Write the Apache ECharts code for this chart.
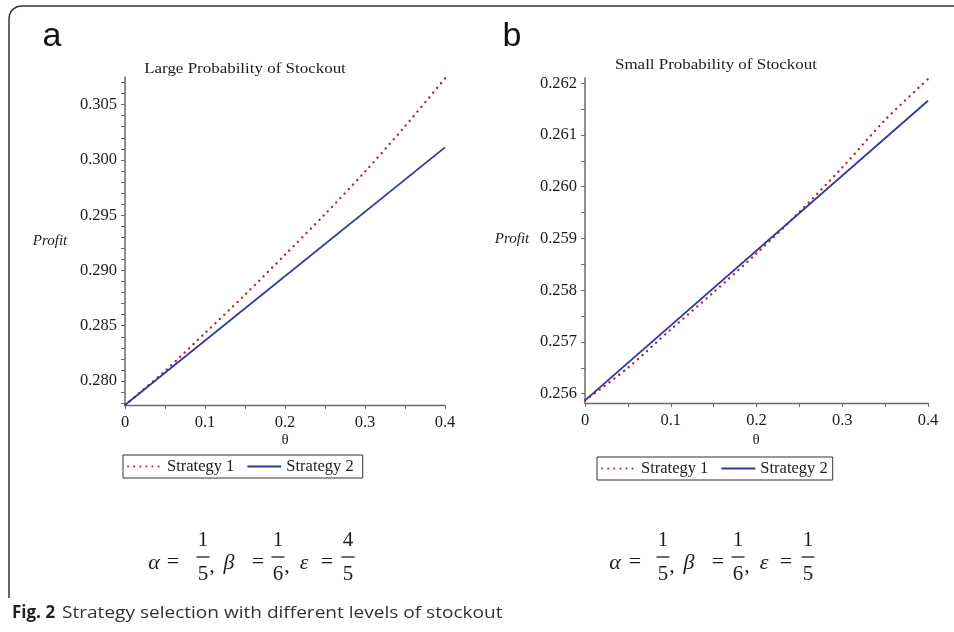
<!DOCTYPE html>
<html>
<head>
<meta charset="utf-8">
<script src="https://cdn.jsdelivr.net/npm/echarts@6/dist/echarts.min.js"></script>
<style>
html,body{margin:0;padding:0;background:#fff;}
#chart{width:954px;height:632px;}
</style>
</head>
<body>
<div id="chart"></div>
<script>
// ---- data ----
const theta = [0, 0.05, 0.1, 0.15, 0.2, 0.25, 0.3, 0.35, 0.4];
const thetaEnds = [0, 0.4];
// Panel a: Large Probability of Stockout
const largeStrategy1 = [0.27783, 0.2809, 0.28434, 0.2878, 0.29142, 0.29509, 0.29894, 0.30304, 0.30738];
const largeStrategy2 = [0.27783, 0.30113];
// Panel b: Small Probability of Stockout
const smallStrategy1 = [0.25587, 0.2565, 0.25724, 0.25796, 0.25871, 0.25951, 0.26037, 0.26129, 0.26208];
const smallStrategy2 = [0.25587, 0.26166];

const xTickValues = [0, 0.05, 0.1, 0.15, 0.2, 0.25, 0.3, 0.35, 0.4];
const xLabelValues = [0, 0.1, 0.2, 0.3, 0.4];
const largeYLabels = [0.280, 0.285, 0.290, 0.295, 0.300, 0.305];
const largeYTicks = [0.278,0.279,0.280,0.281,0.282,0.283,0.284,0.285,0.286,0.287,0.288,0.289,0.290,0.291,0.292,0.293,0.294,0.295,0.296,0.297,0.298,0.299,0.300,0.301,0.302,0.303,0.304,0.305,0.306,0.307];
const smallYLabels = [0.256, 0.257, 0.258, 0.259, 0.260, 0.261, 0.262];
const smallYTicks = [0.256,0.2565,0.257,0.2575,0.258,0.2585,0.259,0.2595,0.260,0.2605,0.261,0.2615,0.262];
const seriesNames = ['Strategy 1', 'Strategy 2'];

const panelTitles = ['Large Probability of Stockout', 'Small Probability of Stockout'];
const caption = 'Strategy selection with different levels of stockout';

// ---- styles ----
const SERIF = '"Liberation Serif", "Times New Roman", serif';
const RED = '#be2430';
const BLUE = '#2d3a9e';
const TXT = '#1c1c1c';
const AXIS = '#6a6a6a';

function pairs(xs, ys){ return xs.map((x,i)=>[x, ys[i]]); }

function xAxisFor(gridIndex){
  return {
    type:'value', gridIndex, min:0, max:0.4,
    axisLine:{show:true, lineStyle:{color:AXIS, width:1.3}},
    axisTick:{show:true, length:4, customValues:xTickValues, lineStyle:{color:AXIS}},
    axisLabel:{customValues:xLabelValues, margin:9, fontFamily:SERIF, fontSize:16.5, color:TXT,
      formatter:v=>String(+(+v).toFixed(2))},
    splitLine:{show:false}
  };
}
function yAxisFor(gridIndex, min, max, ticks, labels){
  return {
    type:'value', gridIndex, min, max,
    axisLine:{show:true, onZero:false, lineStyle:{color:AXIS, width:1.5}},
    axisTick:{show:true, length:4, customValues:ticks, lineStyle:{color:AXIS}},
    axisLabel:{customValues:labels, margin:8, fontFamily:SERIF, fontSize:16.5, color:TXT,
      formatter:v=>(+v).toFixed(3)},
    splitLine:{show:false}
  };
}

const dotted = {color:RED, width:2.4, type:[0.1,6], cap:'round'};
const solid = {color:BLUE, width:1.8};

function legendFor(left, top, padRight){
  return {
    left, top, orient:'horizontal', padding:[3,padRight,3,4], itemGap:12,
    itemWidth:34, itemHeight:14, borderColor:'#333', borderWidth:1,
    itemStyle:{color:'rgba(0,0,0,0)', borderWidth:0, opacity:0},
    data:seriesNames,
    textStyle:{fontFamily:SERIF, fontSize:16.5, color:TXT}
  };
}

function formula(items, yMid){
  const out = [];
  items.forEach(it=>{
    const [kind, x, a, b] = it;
    if(kind==='sym'){
      out.push({type:'text', x, y:yMid+2, style:{text:a, font:'italic 22px '+SERIF, fill:TXT, align:'center', verticalAlign:'middle'}});
    } else if(kind==='eq'){
      out.push({type:'text', x, y:yMid+1, style:{text:'=', font:'22px '+SERIF, fill:TXT, align:'center', verticalAlign:'middle'}});
    } else if(kind==='comma'){
      out.push({type:'text', x, y:yMid+5, style:{text:',', font:'22px '+SERIF, fill:TXT, align:'center', verticalAlign:'middle'}});
    } else if(kind==='frac'){
      out.push({type:'text', x, y:yMid-21, style:{text:a, font:'21px '+SERIF, fill:TXT, align:'center', verticalAlign:'middle'}});
      out.push({type:'line', shape:{x1:x-6.5, y1:yMid-4, x2:x+6.5, y2:yMid-4}, style:{stroke:TXT, lineWidth:1.3}});
      out.push({type:'text', x, y:yMid+13, style:{text:b, font:'21px '+SERIF, fill:TXT, align:'center', verticalAlign:'middle'}});
    }
  });
  return out;
}

const graphics = [
  {type:'polyline', shape:{points:[[9,598],[9,19],[9.5,15],[11,11.5],[13.5,8.8],[17,6.8],[22,6],[954,6]]}, style:{fill:null, stroke:'#333', lineWidth:1.5}},
  {type:'text', x:52, y:37, style:{text:'a', font:'34px "Liberation Sans", Arial, sans-serif', fill:'#111', align:'center', verticalAlign:'middle'}},
  {type:'text', x:512, y:37, style:{text:'b', font:'34px "Liberation Sans", Arial, sans-serif', fill:'#111', align:'center', verticalAlign:'middle'}},
  {type:'text', x:245, y:69, scaleX:1.13, style:{text:panelTitles[0], font:'15px '+SERIF, fill:TXT, align:'center', verticalAlign:'middle'}},
  {type:'text', x:716, y:65, scaleX:1.13, style:{text:panelTitles[1], font:'15px '+SERIF, fill:TXT, align:'center', verticalAlign:'middle'}},
  {type:'text', x:50, y:241, style:{text:'Profit', font:'italic 15px '+SERIF, fill:TXT, align:'center', verticalAlign:'middle'}},
  {type:'text', x:512, y:239, style:{text:'Profit', font:'italic 15px '+SERIF, fill:TXT, align:'center', verticalAlign:'middle'}},
  {type:'text', x:285, y:440, style:{text:'θ', font:'15px '+SERIF, fill:TXT, align:'center', verticalAlign:'middle'}},
  {type:'text', x:756, y:440, style:{text:'θ', font:'15px '+SERIF, fill:TXT, align:'center', verticalAlign:'middle'}},
  {type:'text', x:12, y:613, style:{text:'Fig. 2', font:'bold 17px "Open Sans", sans-serif', fill:'#222', align:'left', verticalAlign:'middle'}},
  {type:'text', x:62, y:613, scaleX:1.12, style:{text:caption, font:'17px "Open Sans", sans-serif', fill:'#333', align:'left', verticalAlign:'middle'}}
].concat(
  formula([['sym',154,'α'],['eq',173],['frac',203,'1','5'],['comma',212],['sym',229,'β'],['eq',258],['frac',278,'1','6'],['comma',287],['sym',304,'ε'],['eq',327],['frac',348,'4','5']], 561),
  formula([['sym',615,'α'],['eq',635],['frac',663,'1','5'],['comma',672],['sym',689,'β'],['eq',718],['frac',738,'1','6'],['comma',747],['sym',764,'ε'],['eq',786],['frac',808,'1','5']], 561)
);

const option = {
  animation:false,
  backgroundColor:'#fff',
  grid:[
    {left:125, top:77, width:320, height:328, containLabel:false},
    {left:585, top:78, width:343, height:325, containLabel:false}
  ],
  xAxis:[xAxisFor(0), xAxisFor(1)],
  yAxis:[
    yAxisFor(0, 0.27783, 0.3075, largeYTicks, largeYLabels),
    yAxisFor(1, 0.25582, 0.2621, smallYTicks, smallYLabels)
  ],
  legend:[legendFor(123, 455, 9), legendFor(597, 457, 5)],
  series:[
    {name:seriesNames[0], type:'line', xAxisIndex:0, yAxisIndex:0, data:pairs(theta, largeStrategy1), showSymbol:false, symbol:'none', smooth:0.3, lineStyle:dotted, itemStyle:{color:RED}},
    {name:seriesNames[1], type:'line', xAxisIndex:0, yAxisIndex:0, data:pairs(thetaEnds, largeStrategy2), showSymbol:false, symbol:'none', lineStyle:solid, itemStyle:{color:BLUE}},
    {name:seriesNames[0], type:'line', xAxisIndex:1, yAxisIndex:1, data:pairs(theta, smallStrategy1), showSymbol:false, symbol:'none', smooth:0.3, lineStyle:dotted, itemStyle:{color:RED}},
    {name:seriesNames[1], type:'line', xAxisIndex:1, yAxisIndex:1, data:pairs(thetaEnds, smallStrategy2), showSymbol:false, symbol:'none', lineStyle:solid, itemStyle:{color:BLUE}}
  ],
  graphic:graphics
};

const chart = echarts.init(document.getElementById('chart'), null, {renderer:'canvas'});
chart.setOption(option);
</script>
</body>
</html>
